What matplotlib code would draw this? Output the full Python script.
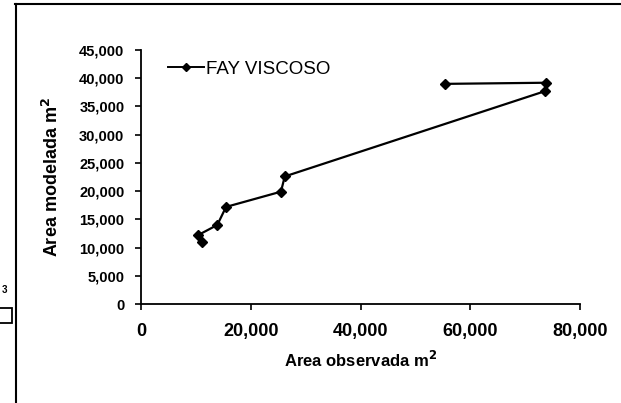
import matplotlib
matplotlib.use("Agg")
import matplotlib.pyplot as plt
from matplotlib.lines import Line2D
from matplotlib.patches import Rectangle
from matplotlib.ticker import FuncFormatter

plt.rcParams['font.family'] = ['Liberation Sans', 'DejaVu Sans']

# Observed vs modelled slick area, FAY viscous-spreading run
area_observada = [11200, 10400, 13900, 15500, 25500, 26200, 73600, 73800, 55400]
area_modelada = [11000, 12200, 14000, 17200, 19900, 22600, 37700, 39200, 39000]
serie_nome = "FAY VISCOSO"
x_ticks = [0, 20000, 40000, 60000, 80000]
y_ticks = list(range(0, 45001, 5000))

W, H = 621, 403
fig = plt.figure(figsize=(W / 100, H / 100), dpi=100)
ax = fig.add_axes([141 / W, 1 - 304 / H, (580 - 141) / W, (304 - 50) / H])

ax.plot(area_observada, area_modelada, color='black', lw=1.6,
        marker='D', markersize=5, markerfacecolor='black',
        markeredgecolor='black', clip_on=False)

ax.set_xlim(0, 80000)
ax.set_ylim(0, 45000)
ax.set_xticks(x_ticks)
ax.set_yticks(y_ticks)
fmt = FuncFormatter(lambda v, p: f"{int(v):,}")
ax.xaxis.set_major_formatter(fmt)
ax.yaxis.set_major_formatter(fmt)

for s in ('top', 'right'):
    ax.spines[s].set_visible(False)
for s in ('left', 'bottom'):
    ax.spines[s].set_linewidth(1.3)
    ax.spines[s].set_color('black')

ax.tick_params(axis='both', direction='out', length=4, width=1.2,
               colors='black')
ax.tick_params(axis='x', pad=10, labelsize=13)
ax.tick_params(axis='y', pad=8, labelsize=10.5)
for lab in ax.get_xticklabels() + ax.get_yticklabels():
    lab.set_fontweight('bold')

ax.set_xlabel("Area observada m$^\\mathbf{2}$", fontsize=12,
              fontweight='bold', labelpad=7)
ax.set_ylabel("Area modelada m$^\\mathbf{2}$", fontsize=13,
              fontweight='bold', labelpad=12)

handle = Line2D([], [], color='black', lw=1.4, marker='D', markersize=4.5)
ax.legend([handle], [serie_nome], frameon=False, loc='center left',
          bbox_to_anchor=(151 / W, 1 - 69 / H),
          bbox_transform=fig.transFigure, handlelength=1.9,
          handletextpad=0.15, prop={'size': 13.5})

# page frame lines
fig.add_artist(Line2D([15 / W, 1], [1 - 4 / H, 1 - 4 / H], color='black',
                      lw=1.5, transform=fig.transFigure))
fig.add_artist(Line2D([16 / W, 16 / W], [0, 1 - 4 / H], color='black',
                      lw=1.5, transform=fig.transFigure))
fig.add_artist(Rectangle((-2 / W, 1 - 323 / H), 14 / W, 15 / H,
                         fill=False, ec='black', lw=1.3,
                         transform=fig.transFigure))
fig.text(4 / W, 1 - 290 / H, "3", fontsize=7, fontweight='bold',
         ha='center', va='center')

fig.savefig("out.png", dpi=100)
